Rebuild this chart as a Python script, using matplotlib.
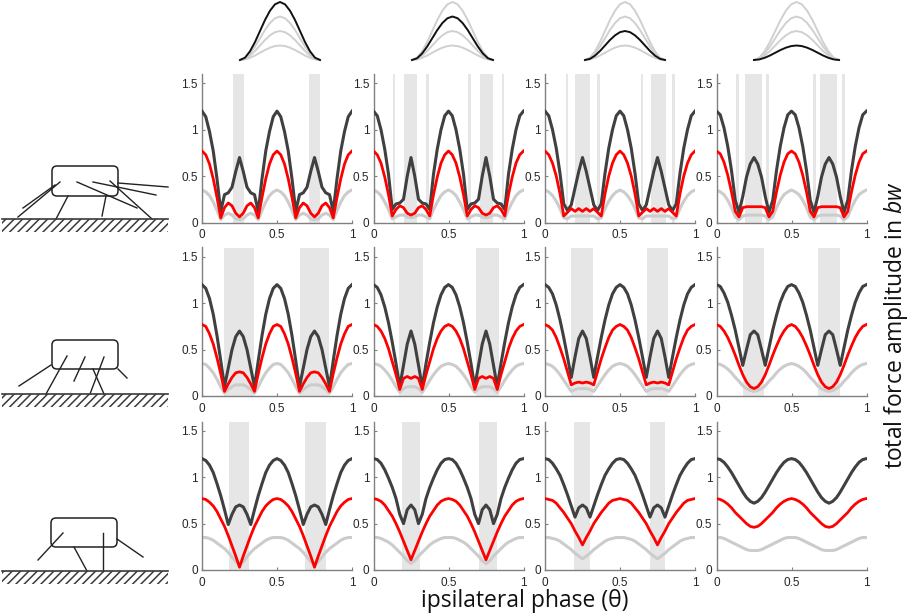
import matplotlib
matplotlib.use("Agg")
import matplotlib.pyplot as plt
from matplotlib.patches import Rectangle, FancyBboxPatch

plt.rcParams["font.family"] = ["Liberation Sans", "DejaVu Sans"]
plt.rcParams["mathtext.fontset"] = "custom"
plt.rcParams["mathtext.rm"] = "Open Sans"
plt.rcParams["mathtext.it"] = "Open Sans:italic"
plt.rcParams["hatch.linewidth"] = 1.1

# ipsilateral phase grid (x of every curve)
phase = [0, 0.025, 0.05, 0.075, 0.1, 0.125, 0.15, 0.175, 0.2, 0.225, 0.25,
         0.275, 0.3, 0.325, 0.35, 0.375, 0.4, 0.425, 0.45, 0.475, 0.5,
         0.525, 0.55, 0.575, 0.6, 0.625, 0.65, 0.675, 0.7, 0.725, 0.75,
         0.775, 0.8, 0.825, 0.85, 0.875, 0.9, 0.925, 0.95, 0.975, 1]

# row 1 (gait with many legs)
dark_11 = [1.2,1.14,0.98,0.77,0.47,0.12,0.3,0.32,0.38,0.55,0.7,0.55,0.38,0.32,0.3,0.12,0.47,0.77,0.98,1.14,1.2,1.14,0.98,0.77,0.47,0.12,0.3,0.32,0.38,0.55,0.7,0.55,0.38,0.32,0.3,0.12,0.47,0.77,0.98,1.14,1.2]
red_11 = [0.77,0.73,0.63,0.47,0.27,0.05,0.16,0.21,0.18,0.1,0.06,0.1,0.18,0.21,0.16,0.05,0.27,0.47,0.63,0.73,0.77,0.73,0.63,0.47,0.27,0.05,0.16,0.21,0.18,0.1,0.06,0.1,0.18,0.21,0.16,0.05,0.27,0.47,0.63,0.73,0.77]
grey_11 = [0.35,0.33,0.29,0.22,0.13,0.03,0.08,0.1,0.08,0.04,0.03,0.04,0.08,0.1,0.08,0.03,0.13,0.22,0.29,0.33,0.35,0.33,0.29,0.22,0.13,0.03,0.08,0.1,0.08,0.04,0.03,0.04,0.08,0.1,0.08,0.03,0.13,0.22,0.29,0.33,0.35]
dark_12 = [1.2,1.15,1.0,0.79,0.52,0.14,0.2,0.21,0.25,0.5,0.7,0.5,0.25,0.21,0.2,0.14,0.52,0.79,1.0,1.15,1.2,1.15,1.0,0.79,0.52,0.14,0.2,0.21,0.25,0.5,0.7,0.5,0.25,0.21,0.2,0.14,0.52,0.79,1.0,1.15,1.2]
red_12 = [0.77,0.73,0.64,0.49,0.3,0.07,0.14,0.18,0.16,0.1,0.08,0.1,0.16,0.18,0.14,0.07,0.3,0.49,0.64,0.73,0.77,0.73,0.64,0.49,0.3,0.07,0.14,0.18,0.16,0.1,0.08,0.1,0.16,0.18,0.14,0.07,0.3,0.49,0.64,0.73,0.77]
grey_12 = [0.35,0.33,0.29,0.22,0.14,0.04,0.06,0.08,0.08,0.06,0.05,0.06,0.08,0.08,0.06,0.04,0.14,0.22,0.29,0.33,0.35,0.33,0.29,0.22,0.14,0.04,0.06,0.08,0.08,0.06,0.05,0.06,0.08,0.08,0.06,0.04,0.14,0.22,0.29,0.33,0.35]
dark_13 = [1.2,1.15,1.0,0.8,0.53,0.2,0.13,0.19,0.37,0.55,0.7,0.55,0.37,0.19,0.13,0.2,0.53,0.8,1.0,1.15,1.2,1.15,1.0,0.8,0.53,0.2,0.13,0.19,0.37,0.55,0.7,0.55,0.37,0.19,0.13,0.2,0.53,0.8,1.0,1.15,1.2]
red_13 = [0.77,0.73,0.64,0.5,0.31,0.07,0.11,0.15,0.12,0.15,0.12,0.15,0.12,0.15,0.11,0.07,0.31,0.5,0.64,0.73,0.77,0.73,0.64,0.5,0.31,0.07,0.11,0.15,0.12,0.15,0.12,0.15,0.12,0.15,0.11,0.07,0.31,0.5,0.64,0.73,0.77]
grey_13 = [0.35,0.33,0.29,0.23,0.15,0.05,0.04,0.07,0.07,0.07,0.07,0.07,0.07,0.07,0.04,0.05,0.15,0.23,0.29,0.33,0.35,0.33,0.29,0.23,0.15,0.05,0.04,0.07,0.07,0.07,0.07,0.07,0.07,0.07,0.04,0.05,0.15,0.23,0.29,0.33,0.35]
dark_14 = [1.2,1.16,1.02,0.82,0.56,0.24,0.11,0.28,0.49,0.63,0.7,0.63,0.49,0.28,0.11,0.24,0.56,0.82,1.02,1.16,1.2,1.16,1.02,0.82,0.56,0.24,0.11,0.28,0.49,0.63,0.7,0.63,0.49,0.28,0.11,0.24,0.56,0.82,1.02,1.16,1.2]
red_14 = [0.77,0.74,0.65,0.51,0.33,0.12,0.06,0.16,0.17,0.17,0.17,0.17,0.17,0.16,0.06,0.12,0.33,0.51,0.65,0.74,0.77,0.74,0.65,0.51,0.33,0.12,0.06,0.16,0.17,0.17,0.17,0.17,0.17,0.16,0.06,0.12,0.33,0.51,0.65,0.74,0.77]
grey_14 = [0.35,0.33,0.3,0.24,0.16,0.06,0.03,0.07,0.08,0.08,0.08,0.08,0.08,0.07,0.03,0.06,0.16,0.24,0.3,0.33,0.35,0.33,0.3,0.24,0.16,0.06,0.03,0.07,0.08,0.08,0.08,0.08,0.08,0.07,0.03,0.06,0.16,0.24,0.3,0.33,0.35]

# row 2
dark_21 = [1.2,1.16,1.05,0.88,0.65,0.38,0.1,0.3,0.5,0.64,0.7,0.64,0.5,0.3,0.1,0.38,0.65,0.88,1.05,1.16,1.2,1.16,1.05,0.88,0.65,0.38,0.1,0.3,0.5,0.64,0.7,0.64,0.5,0.3,0.1,0.38,0.65,0.88,1.05,1.16,1.2]
red_21 = [0.77,0.75,0.67,0.56,0.41,0.24,0.05,0.13,0.2,0.25,0.26,0.25,0.2,0.13,0.05,0.24,0.41,0.56,0.67,0.75,0.77,0.75,0.67,0.56,0.41,0.24,0.05,0.13,0.2,0.25,0.26,0.25,0.2,0.13,0.05,0.24,0.41,0.56,0.67,0.75,0.77]
grey_21 = [0.35,0.34,0.3,0.25,0.18,0.1,0.03,0.07,0.1,0.12,0.12,0.12,0.1,0.07,0.03,0.1,0.18,0.25,0.3,0.34,0.35,0.34,0.3,0.25,0.18,0.1,0.03,0.07,0.1,0.12,0.12,0.12,0.1,0.07,0.03,0.1,0.18,0.25,0.3,0.34,0.35]
dark_22 = [1.2,1.17,1.09,0.96,0.79,0.58,0.35,0.1,0.33,0.56,0.7,0.56,0.33,0.1,0.35,0.58,0.79,0.96,1.09,1.17,1.2,1.17,1.09,0.96,0.79,0.58,0.35,0.1,0.33,0.56,0.7,0.56,0.33,0.1,0.35,0.58,0.79,0.96,1.09,1.17,1.2]
red_22 = [0.77,0.75,0.7,0.62,0.51,0.37,0.23,0.07,0.19,0.21,0.19,0.21,0.19,0.07,0.23,0.37,0.51,0.62,0.7,0.75,0.77,0.75,0.7,0.62,0.51,0.37,0.23,0.07,0.19,0.21,0.19,0.21,0.19,0.07,0.23,0.37,0.51,0.62,0.7,0.75,0.77]
grey_22 = [0.35,0.34,0.32,0.28,0.23,0.17,0.1,0.04,0.08,0.1,0.1,0.1,0.08,0.04,0.1,0.17,0.23,0.28,0.32,0.34,0.35,0.34,0.32,0.28,0.23,0.17,0.1,0.04,0.08,0.1,0.1,0.1,0.08,0.04,0.1,0.17,0.23,0.28,0.32,0.34,0.35]
dark_23 = [1.2,1.17,1.1,0.98,0.82,0.63,0.42,0.2,0.42,0.62,0.7,0.62,0.42,0.2,0.42,0.63,0.82,0.98,1.1,1.17,1.2,1.17,1.1,0.98,0.82,0.63,0.42,0.2,0.42,0.62,0.7,0.62,0.42,0.2,0.42,0.63,0.82,0.98,1.1,1.17,1.2]
red_23 = [0.77,0.75,0.71,0.63,0.52,0.4,0.26,0.12,0.14,0.15,0.14,0.15,0.14,0.12,0.26,0.4,0.52,0.63,0.71,0.75,0.77,0.75,0.71,0.63,0.52,0.4,0.26,0.12,0.14,0.15,0.14,0.15,0.14,0.12,0.26,0.4,0.52,0.63,0.71,0.75,0.77]
grey_23 = [0.35,0.34,0.32,0.28,0.23,0.17,0.11,0.05,0.07,0.08,0.08,0.08,0.07,0.05,0.11,0.17,0.23,0.28,0.32,0.34,0.35,0.34,0.32,0.28,0.23,0.17,0.11,0.05,0.07,0.08,0.08,0.08,0.07,0.05,0.11,0.17,0.23,0.28,0.32,0.34,0.35]
dark_24 = [1.2,1.18,1.11,1.01,0.87,0.71,0.52,0.33,0.5,0.66,0.7,0.66,0.5,0.33,0.52,0.71,0.87,1.01,1.11,1.18,1.2,1.18,1.11,1.01,0.87,0.71,0.52,0.33,0.5,0.66,0.7,0.66,0.5,0.33,0.52,0.71,0.87,1.01,1.11,1.18,1.2]
red_24 = [0.77,0.75,0.7,0.63,0.54,0.44,0.33,0.23,0.15,0.1,0.08,0.1,0.15,0.23,0.33,0.44,0.54,0.63,0.7,0.75,0.77,0.75,0.7,0.63,0.54,0.44,0.33,0.23,0.15,0.1,0.08,0.1,0.15,0.23,0.33,0.44,0.54,0.63,0.7,0.75,0.77]
grey_24 = [0.35,0.34,0.32,0.29,0.25,0.2,0.16,0.11,0.08,0.06,0.05,0.06,0.08,0.11,0.16,0.2,0.25,0.29,0.32,0.34,0.35,0.34,0.32,0.29,0.25,0.2,0.16,0.11,0.08,0.06,0.05,0.06,0.08,0.11,0.16,0.2,0.25,0.29,0.32,0.34,0.35]

# row 3
dark_31 = [1.2,1.18,1.13,1.05,0.93,0.8,0.65,0.49,0.6,0.68,0.7,0.68,0.6,0.49,0.65,0.8,0.93,1.05,1.13,1.18,1.2,1.18,1.13,1.05,0.93,0.8,0.65,0.49,0.6,0.68,0.7,0.68,0.6,0.49,0.65,0.8,0.93,1.05,1.13,1.18,1.2]
red_31 = [0.77,0.76,0.73,0.69,0.63,0.55,0.47,0.37,0.26,0.15,0.03,0.15,0.26,0.37,0.47,0.55,0.63,0.69,0.73,0.76,0.77,0.76,0.73,0.69,0.63,0.55,0.47,0.37,0.26,0.15,0.03,0.15,0.26,0.37,0.47,0.55,0.63,0.69,0.73,0.76,0.77]
grey_31 = [0.35,0.35,0.34,0.32,0.29,0.26,0.23,0.19,0.14,0.09,0.06,0.09,0.14,0.19,0.23,0.26,0.29,0.32,0.34,0.35,0.35,0.35,0.34,0.32,0.29,0.26,0.23,0.19,0.14,0.09,0.06,0.09,0.14,0.19,0.23,0.26,0.29,0.32,0.34,0.35,0.35]
dark_32 = [1.2,1.19,1.15,1.08,0.99,0.89,0.77,0.6,0.5,0.65,0.7,0.65,0.5,0.6,0.77,0.89,0.99,1.08,1.15,1.19,1.2,1.19,1.15,1.08,0.99,0.89,0.77,0.6,0.5,0.65,0.7,0.65,0.5,0.6,0.77,0.89,0.99,1.08,1.15,1.19,1.2]
red_32 = [0.77,0.76,0.74,0.7,0.64,0.58,0.5,0.41,0.31,0.21,0.11,0.21,0.31,0.41,0.5,0.58,0.64,0.7,0.74,0.76,0.77,0.76,0.74,0.7,0.64,0.58,0.5,0.41,0.31,0.21,0.11,0.21,0.31,0.41,0.5,0.58,0.64,0.7,0.74,0.76,0.77]
grey_32 = [0.35,0.35,0.34,0.32,0.3,0.27,0.23,0.19,0.15,0.1,0.07,0.1,0.15,0.19,0.23,0.27,0.3,0.32,0.34,0.35,0.35,0.35,0.34,0.32,0.3,0.27,0.23,0.19,0.15,0.1,0.07,0.1,0.15,0.19,0.23,0.27,0.3,0.32,0.34,0.35,0.35]
dark_33 = [1.2,1.19,1.15,1.09,1.02,0.92,0.81,0.69,0.57,0.67,0.7,0.67,0.57,0.69,0.81,0.92,1.02,1.09,1.15,1.19,1.2,1.19,1.15,1.09,1.02,0.92,0.81,0.69,0.57,0.67,0.7,0.67,0.57,0.69,0.81,0.92,1.02,1.09,1.15,1.19,1.2]
red_33 = [0.77,0.76,0.75,0.72,0.67,0.62,0.56,0.5,0.42,0.35,0.27,0.35,0.42,0.5,0.56,0.62,0.67,0.72,0.75,0.76,0.77,0.76,0.75,0.72,0.67,0.62,0.56,0.5,0.42,0.35,0.27,0.35,0.42,0.5,0.56,0.62,0.67,0.72,0.75,0.76,0.77]
grey_33 = [0.35,0.35,0.34,0.33,0.31,0.28,0.25,0.22,0.18,0.15,0.12,0.15,0.18,0.22,0.25,0.28,0.31,0.33,0.34,0.35,0.35,0.35,0.34,0.33,0.31,0.28,0.25,0.22,0.18,0.15,0.12,0.15,0.18,0.22,0.25,0.28,0.31,0.33,0.34,0.35,0.35]
dark_34 = [1.2,1.19,1.16,1.11,1.05,0.98,0.91,0.84,0.78,0.74,0.72,0.74,0.78,0.84,0.91,0.98,1.05,1.11,1.16,1.19,1.2,1.19,1.16,1.11,1.05,0.98,0.91,0.84,0.78,0.74,0.72,0.74,0.78,0.84,0.91,0.98,1.05,1.11,1.16,1.19,1.2]
red_34 = [0.77,0.76,0.74,0.71,0.67,0.62,0.58,0.54,0.5,0.47,0.46,0.47,0.5,0.54,0.58,0.62,0.67,0.71,0.74,0.76,0.77,0.76,0.74,0.71,0.67,0.62,0.58,0.54,0.5,0.47,0.46,0.47,0.5,0.54,0.58,0.62,0.67,0.71,0.74,0.76,0.77]
grey_34 = [0.35,0.35,0.34,0.32,0.3,0.28,0.26,0.24,0.22,0.21,0.21,0.21,0.22,0.24,0.26,0.28,0.3,0.32,0.34,0.35,0.35,0.35,0.34,0.32,0.3,0.28,0.26,0.24,0.22,0.21,0.21,0.21,0.22,0.24,0.26,0.28,0.3,0.32,0.34,0.35,0.35]

dark = [[dark_11, dark_12, dark_13, dark_14],
        [dark_21, dark_22, dark_23, dark_24],
        [dark_31, dark_32, dark_33, dark_34]]
red = [[red_11, red_12, red_13, red_14],
       [red_21, red_22, red_23, red_24],
       [red_31, red_32, red_33, red_34]]
grey = [[grey_11, grey_12, grey_13, grey_14],
        [grey_21, grey_22, grey_23, grey_24],
        [grey_31, grey_32, grey_33, grey_34]]

# shaded phase windows (start, end)
bands = [
    [[(0.208, 0.281), (0.714, 0.788)],
     [(0.128, 0.143), (0.201, 0.289), (0.351, 0.367), (0.631, 0.647), (0.709, 0.796), (0.855, 0.872)],
     [(0.138, 0.153), (0.2, 0.3), (0.349, 0.364), (0.638, 0.653), (0.707, 0.807), (0.849, 0.867)],
     [(0.133, 0.151), (0.187, 0.304), (0.331, 0.351), (0.644, 0.662), (0.693, 0.804), (0.838, 0.858)]],
    [[(0.147, 0.344), (0.652, 0.848)],
     [(0.172, 0.33), (0.68, 0.835)],
     [(0.173, 0.323), (0.681, 0.823)],
     [(0.174, 0.319), (0.679, 0.82)]],
    [[(0.181, 0.31), (0.685, 0.824)],
     [(0.192, 0.312), (0.703, 0.821)],
     [(0.195, 0.303), (0.701, 0.8)],
     []],
]

x_ticks = [0, 0.5, 1]
x_tick_labels = ["0", "0.5", "1"]
y_ticks = [0, 0.5, 1, 1.5]
y_tick_labels = ["0", "0.5", "1", "1.5"]

# bell-shaped force profiles above the columns
bell_x = [0, 0.0625, 0.125, 0.1875, 0.25, 0.3125, 0.375, 0.4375, 0.5,
          0.5625, 0.625, 0.6875, 0.75, 0.8125, 0.875, 0.9375, 1]
bell_y = [0, 0.04, 0.15, 0.31, 0.5, 0.69, 0.85, 0.96, 1,
          0.96, 0.85, 0.69, 0.5, 0.31, 0.15, 0.04, 0]
bell_amp = [1, 0.75, 0.5, 0.25]

# leg sketches (pixel coordinates)
body = [(52, 166, 66, 30), (52, 340, 66, 29), (51, 518, 66, 29)]
ground = [219, 394, 571]
legs = [
    [((60, 182), (18, 217)), ((55, 185), (23, 208)), ((68, 196), (56, 219)),
     ((106, 196), (102, 216)), ((77, 182), (137, 208)), ((93, 182), (156, 195)),
     ((110, 181), (152, 219)), ((118, 183), (168, 187))],
    [((51, 365), (19, 386)), ((67, 356), (46, 394)), ((85, 357), (74, 381)),
     ((104, 357), (90, 394)), ((93, 369), (104, 394)), ((118, 369), (127, 378))],
    [((63, 533), (38, 560)), ((74, 547), (87, 571)), ((103, 533), (103, 571)),
     ((117, 539), (143, 557))],
]

W, H = 913, 616
fig = plt.figure(figsize=(W / 100, H / 100), dpi=100)

col_left = [202, 373.5, 545, 716.5]
row_top = [74, 247.5, 421.5]
ax_w, ax_h = 150, 148.5

for r in range(3):
    for c in range(4):
        ax = fig.add_axes([col_left[c] / W, 1 - (row_top[r] + ax_h) / H, ax_w / W, ax_h / H])
        for a, b in bands[r][c]:
            ax.axvspan(a, b, color="#e6e6e6", lw=0, zorder=0)
        ax.plot(phase, grey[r][c], color="#cccccc", lw=2.2, zorder=2)
        ax.plot(phase, dark[r][c], color="#404040", lw=2.2, zorder=3)
        ax.plot(phase, red[r][c], color="#ff0000", lw=2.0, zorder=4)
        ax.set_xlim(0, 1)
        ax.set_ylim(0, 1.6)
        ax.set_xticks(x_ticks)
        ax.set_xticklabels(x_tick_labels)
        ax.set_yticks(y_ticks)
        ax.set_yticklabels(y_tick_labels)
        ax.spines["top"].set_visible(False)
        ax.spines["right"].set_visible(False)
        for s in ["left", "bottom"]:
            ax.spines[s].set_color("#808080")
            ax.spines[s].set_linewidth(1.0)
        ax.tick_params(length=2, direction="in", color="#808080",
                       labelcolor="#262626", labelsize=8.5)
        ax.tick_params(axis="x", pad=5)
        ax.tick_params(axis="y", pad=3)

# bells on top
bell_left = [240, 412, 585, 754]
bell_w = [80, 81, 80, 85]
for c in range(4):
    bx = fig.add_axes([bell_left[c] / W, 1 - 60 / H, bell_w[c] / W, 58 / H])
    for k, amp in enumerate(bell_amp):
        if k != c:
            bx.plot(bell_x, [amp * v for v in bell_y], color="#d0d0d0", lw=1.4, clip_on=False)
    bx.plot(bell_x, [bell_amp[c] * v for v in bell_y], color="#111111", lw=1.4, clip_on=False)
    bx.set_xlim(0, 1)
    bx.set_ylim(0, 1)
    bx.axis("off")

# sketches on the left
ov = fig.add_axes([0, 0, 1, 1])
ov.set_xlim(0, W)
ov.set_ylim(H, 0)
ov.axis("off")
for i in range(3):
    x, y, w, h = body[i]
    ov.add_patch(FancyBboxPatch((x, y), w, h, boxstyle="round,pad=0,rounding_size=5",
                                fill=False, ec="#222222", lw=1.1))
    for (p0, p1) in legs[i]:
        ov.plot([p0[0], p1[0]], [p0[1], p1[1]], color="#222222", lw=1.0)
    gy = ground[i]
    ov.add_patch(Rectangle((2, gy), 166, 13, fill=False, hatch="////",
                           ec="#3a3a3a", lw=0))
    ov.plot([2, 168], [gy, gy], color="#3a3a3a", lw=1.2)

fig.text(525 / W, 1 - 601 / H, "ipsilateral phase (θ)", ha="center", va="center",
         fontsize=16.5, family="Open Sans", color="#111111")
fig.text(896 / W, 1 - 325 / H, "total force amplitude in $\\mathit{bw}$", ha="center",
         va="center", rotation=90, fontsize=16.5, family="Open Sans", color="#111111")

fig.savefig("out.png", dpi=100)
